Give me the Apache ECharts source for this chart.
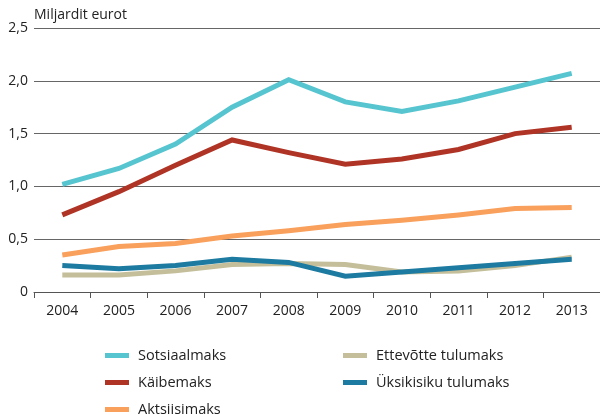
<!DOCTYPE html>
<html lang="et">
<head>
    <meta charset="UTF-8">
    <title>Maksutulud</title>
    <style>
        html, body { margin: 0; padding: 0; background: #fff; }
        .box { width: 600px; height: 415px; }
    </style>
</head>
<body>
    <div class="box"></div>
    <script src="https://cdn.jsdelivr.net/npm/echarts@6/dist/echarts.min.js"></script>
    <script>
        let years = ["2004", "2005", "2006", "2007", "2008", "2009", "2010", "2011", "2012", "2013"];
        let sotsiaalmaks = [1.02, 1.17, 1.40, 1.75, 2.01, 1.80, 1.71, 1.81, 1.94, 2.07];
        let kaibemaks = [0.73, 0.95, 1.20, 1.44, 1.32, 1.21, 1.26, 1.35, 1.50, 1.56];
        let aktsiisimaks = [0.35, 0.43, 0.46, 0.53, 0.58, 0.64, 0.68, 0.73, 0.79, 0.80];
        let ettevotte = [0.16, 0.16, 0.20, 0.26, 0.27, 0.26, 0.19, 0.20, 0.25, 0.33];
        let uksikisiku = [0.25, 0.22, 0.25, 0.31, 0.28, 0.15, 0.19, 0.23, 0.27, 0.31];

        let font = "Open Sans";
        let myChart = echarts.init(document.querySelector(".box"));

        function line(name, data, color) {
            return {
                name: name,
                type: "line",
                data: data,
                symbol: "none",
                lineStyle: { width: 5, color: color, cap: "butt", join: "miter" },
                itemStyle: { color: color }
            };
        }

        let legendBase = {
            orient: "vertical",
            icon: "rect",
            itemWidth: 24,
            itemHeight: 5,
            itemGap: 12,
            height: 120,
            textStyle: { fontFamily: font, fontSize: 14.5, color: "#222", padding: [0, 0, 0, 4] }
        };

        let option = {
            animation: false,
            textStyle: { fontFamily: font },
            legend: [
                Object.assign({}, legendBase, { left: 100, top: 343, data: ["Sotsiaalmaks", "Käibemaks", "Aktsiisimaks"] }),
                Object.assign({}, legendBase, { left: 338, top: 343, data: ["Ettevõtte tulumaks", "Üksikisiku tulumaks"] })
            ],
            grid: { left: 34, right: -1, top: 28, bottom: 123 },
            xAxis: {
                type: "category",
                data: years,
                boundaryGap: true,
                axisLine: { lineStyle: { color: "#555", width: 1 } },
                axisTick: { show: true, length: 6, lineStyle: { color: "#555" } },
                axisLabel: { color: "#222", fontSize: 14, margin: 12, fontFamily: font }
            },
            yAxis: {
                type: "value",
                min: 0,
                max: 2.5,
                interval: 0.5,
                name: "Miljardit eurot",
                nameLocation: "end",
                nameGap: 6,
                nameTextStyle: { color: "#222", fontSize: 14, align: "left", padding: [0, 0, 0, 0], fontFamily: font },
                axisLine: { show: false },
                axisTick: { show: false },
                axisLabel: {
                    color: "#222",
                    fontSize: 14,
                    margin: 6,
                    fontFamily: font,
                    formatter: function (v) {
                        return v === 0 ? "0" : v.toFixed(1).replace(".", ",");
                    }
                },
                splitLine: { lineStyle: { color: "#666", width: 1 } }
            },
            series: [
                line("Ettevõtte tulumaks", ettevotte, "#c4bf9a"),
                line("Üksikisiku tulumaks", uksikisiku, "#1d7aa0"),
                line("Aktsiisimaks", aktsiisimaks, "#f9a05c"),
                line("Käibemaks", kaibemaks, "#b03425"),
                line("Sotsiaalmaks", sotsiaalmaks, "#57c5cf")
            ]
        };
        myChart.setOption(option);
    </script>
</body>
</html>
